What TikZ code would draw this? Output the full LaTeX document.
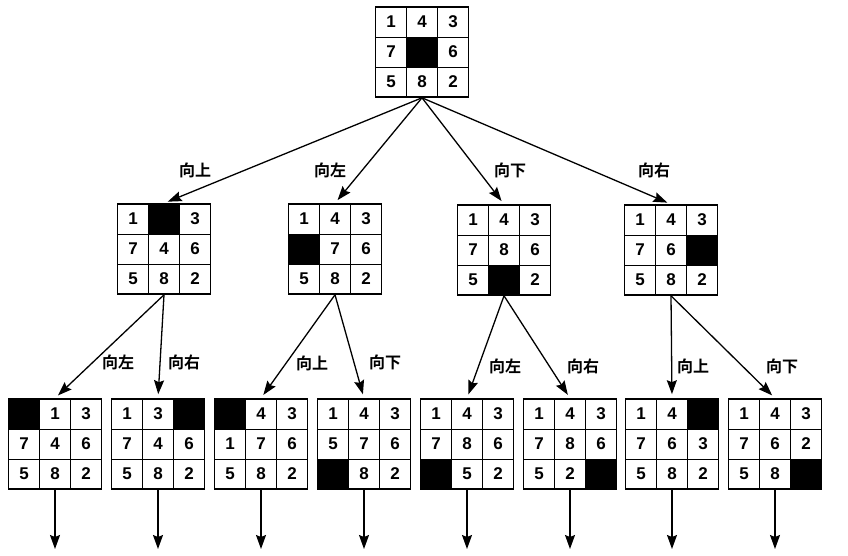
\documentclass[tikz,border=0pt]{standalone}
\usepackage{fontspec}
\setmainfont{Liberation Sans}
\newfontfamily\cjk{Noto Sans CJK SC}[BoldFont={Noto Sans CJK SC Bold}]
\usetikzlibrary{arrows.meta}

\newcommand{\puzzle}[4]{%
  \foreach \v [count=\i from 0] in {#4} {
    \pgfmathtruncatemacro{\pcol}{mod(\i,3)}
    \pgfmathtruncatemacro{\prow}{\i/3}
    \ifnum\v=0
      \node[cell,fill=black] (#1-\i) at ({#2+(\pcol-1)*31},{#3+(\prow-1)*30}) {};
    \else
      \node[cell] (#1-\i) at ({#2+(\pcol-1)*31},{#3+(\prow-1)*30}) {\v};
    \fi
  }
  \node[board] (#1) at (#2,#3) {};
}

\begin{document}
\begin{tikzpicture}[x=1pt,y=-1pt,
  cell/.style={draw,line width=0.8pt,minimum width=31pt,minimum height=30pt,inner sep=0pt,
    font=\fontsize{17}{17}\selectfont\bfseries},
  board/.style={draw,line width=1.6pt,minimum width=93pt,minimum height=90pt,inner sep=0pt},
  move/.style={font=\cjk\bfseries\fontsize{16}{16}\selectfont,inner sep=0pt},
  arr/.style={line width=1.3pt,-{Stealth[length=14pt,width=10pt,inset=2pt]},shorten >=4pt}]
\useasboundingbox (0,0) rectangle (848,556);

\puzzle{top}{422}{52}{1,4,3,7,0,6,5,8,2}

\puzzle{b1}{164}{249}{1,0,3,7,4,6,5,8,2}
\puzzle{b2}{335}{249}{1,4,3,0,7,6,5,8,2}
\puzzle{b3}{504}{250}{1,4,3,7,8,6,5,0,2}
\puzzle{b4}{671}{250}{1,4,3,7,6,0,5,8,2}

\puzzle{c1}{55}{444}{0,1,3,7,4,6,5,8,2}
\puzzle{c2}{158}{444}{1,3,0,7,4,6,5,8,2}
\puzzle{c3}{261}{444}{0,4,3,1,7,6,5,8,2}
\puzzle{c4}{364}{444}{1,4,3,5,7,6,0,8,2}
\puzzle{c5}{467}{444}{1,4,3,7,8,6,0,5,2}
\puzzle{c6}{570}{444}{1,4,3,7,8,6,5,2,0}
\puzzle{c7}{672}{444}{1,4,0,7,6,3,5,8,2}
\puzzle{c8}{775}{444}{1,4,3,7,6,2,5,8,0}

\foreach \n in {b1,b2,b3,b4}
  \draw[arr] (top.south) -- (\n.north);
\draw[arr] (b1.south) -- (c1.north);
\draw[arr] (b1.south) -- (c2.north);
\draw[arr] (b2.south) -- (c3.north);
\draw[arr] (b2.south) -- (c4.north);
\draw[arr] (b3.south) -- (c5.north);
\draw[arr] (b3.south) -- (c6.north);
\draw[arr] (b4.south) -- (c7.north);
\draw[arr] (b4.south) -- (c8.north);

\foreach \n/\x in {c1/55,c2/158,c3/261,c4/364,c5/467,c6/570,c7/672,c8/775} {
  \coordinate (e\n) at (\x,553);
  \draw[arr] (\n.south) -- (e\n);
}

\node[move] (m1) at (195,170) {向上};
\node[move] (m2) at (330,170) {向左};
\node[move] (m3) at (510,170) {向下};
\node[move] (m4) at (654,170) {向右};

\node[move] (m11) at (118,362) {向左};
\node[move] (m12) at (184,362) {向右};
\node[move] (m21) at (312,363) {向上};
\node[move] (m22) at (385,362) {向下};
\node[move] (m31) at (505,366) {向左};
\node[move] (m32) at (583,366) {向右};
\node[move] (m41) at (693,366) {向上};
\node[move] (m42) at (782,366) {向下};
\end{tikzpicture}
\end{document}
